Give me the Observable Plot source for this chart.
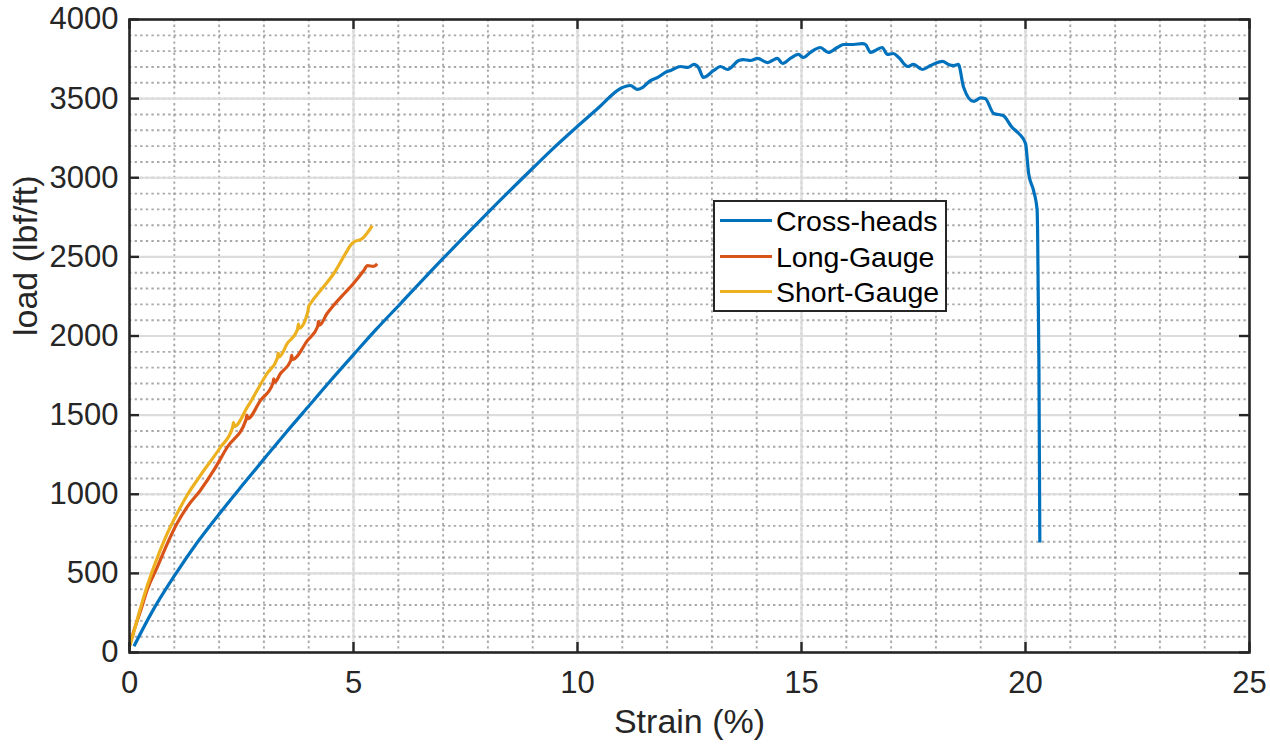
<!DOCTYPE html>
<html><head><meta charset="utf-8">
<script src="https://cdn.jsdelivr.net/npm/d3@7"></script>
<script src="https://cdn.jsdelivr.net/npm/@observablehq/plot@0.6"></script>
<style>
body{margin:0;background:#fff;}
#wrap{position:relative;width:1270px;height:744px;font-family:"Liberation Sans",Arial,sans-serif;}
#legend{position:absolute;left:713px;top:200px;width:234px;height:112px;box-sizing:border-box;border:2.5px solid #262626;background:#fff;}
.row{position:absolute;left:0;height:0;}
.sw{position:absolute;left:5px;width:52px;height:3px;top:-1.5px;}
.lab{position:absolute;left:61px;top:-17px;font-size:28.5px;line-height:34px;color:#000;white-space:nowrap;}
</style>
</head><body>
<div id="wrap"></div>
<script>
// ---- data ----
const seriesNames = ["Cross-heads", "Long-Gauge", "Short-Gauge"];
const seriesColors = ["#0072BD", "#D95319", "#EDB120"];

const crossX = [0.1,0.5,1.05,1.5,2.03,2.5,3.0,3.5,4.04,4.5,5.0,5.5,6.05,7,8,9,9.4,10.02,10.5,10.96,11.18,11.34,11.45,11.63,11.79,12.0,12.08,12.3,12.46,12.6,12.7,12.81,13.04,13.19,13.35,13.6,13.7,13.86,14.02,14.24,14.35,14.46,14.58,14.75,14.93,15.04,15.2,15.42,15.6,15.8,15.94,16.16,16.36,16.43,16.54,16.65,16.8,16.92,17.05,17.17,17.37,17.5,17.7,17.88,18.15,18.28,18.4,18.5,18.62,18.84,19.0,19.1,19.29,19.5,19.7,19.85,20.0,20.07,20.18,20.26,20.27,20.3,20.32];
const crossY = [40,255,505,690,885,1050,1222,1392,1570,1722,1882,2040,2205,2490,2780,3060,3170,3330,3450,3564,3583,3558,3570,3614,3634,3671,3678,3703,3697,3716,3697,3634,3678,3703,3684,3741,3747,3741,3754,3728,3741,3754,3722,3754,3779,3760,3792,3823,3792,3823,3842,3842,3848,3842,3792,3804,3823,3779,3785,3760,3703,3716,3684,3709,3735,3716,3709,3716,3570,3482,3505,3501,3406,3393,3318,3280,3216,3027,2919,2793,2667,1800,695];

const longX = [0,0.1,0.25,0.4,0.62,0.8,1.06,1.3,1.58,1.9,2.18,2.6,2.62,2.64,2.92,3.2,3.22,3.24,3.37,3.6,3.62,3.64,3.97,4.2,4.22,4.24,4.41,4.56,4.8,5.0,5.23,5.31,5.45,5.53];
const longY = [40,140,265,400,539,660,815,925,1024,1160,1297,1470,1500,1478,1592,1700,1730,1708,1763,1845,1878,1852,1971,2060,2092,2068,2142,2195,2270,2332,2414,2445,2440,2456];

const shortX = [0,0.02,0.25,0.4,0.54,0.8,1.06,1.3,1.58,2.03,2.3,2.32,2.34,2.63,3.07,3.3,3.32,3.34,3.52,3.75,3.77,3.79,3.97,4.0,4.04,4.3,4.56,4.86,4.93,5.0,5.19,5.42];
const shortY = [40,57,286,425,539,725,877,1000,1118,1297,1420,1452,1428,1550,1763,1860,1892,1868,1952,2040,2075,2050,2142,2185,2205,2300,2395,2540,2572,2593,2614,2698];

const xTicks = [0,5,10,15,20,25];
const yTicks = [0,500,1000,1500,2000,2500,3000,3500,4000];
const xMinor = d3.range(1,25);
const yMinor = d3.range(100,4000,100);

const xLabel = "Strain (%)";
const yLabel = "load (lbf/ft)";

// ---- build ----
const toRows = (xs, ys) => xs.map((x,i)=>({x, y: ys[i]}));
const series = [toRows(crossX, crossY), toRows(longX, longY), toRows(shortX, shortY)];

const W = 1270, H = 744, mL = 129, mR = 21, mT = 19, mB = 92;
const pw = W - mL - mR, ph = H - mT - mB;
const tickLen = 10;
const ink = "#262626";

const plot = Plot.plot({
  width: W, height: H,
  marginLeft: mL, marginRight: mR, marginTop: mT, marginBottom: mB,
  x: {domain: [0,25]},
  y: {domain: [0,4000]},
  style: {fontFamily: "'Liberation Sans', Arial, sans-serif", color: ink, background: "#fff", overflow: "visible"},
  marks: [
    Plot.ruleX(xMinor, {stroke: "#9a9a9a", strokeWidth: 1.9, strokeDasharray: "2.4,3.2", strokeOpacity: 0.85}),
    Plot.ruleY(yMinor, {stroke: "#9a9a9a", strokeWidth: 1.9, strokeDasharray: "2.4,3.2", strokeOpacity: 0.85}),
    Plot.ruleX(xTicks.slice(1,-1), {stroke: "#dcdcdc", strokeWidth: 2.2}),
    Plot.ruleY(yTicks.slice(1,-1), {stroke: "#dcdcdc", strokeWidth: 2.2}),
    ...series.map((s,i) => Plot.line(s, {x: "x", y: "y", stroke: seriesColors[i], strokeWidth: 3.2, strokeLinejoin: "round", strokeLinecap: "butt", curve: "monotone-x"})),
    Plot.frame({stroke: ink, strokeWidth: 2.6}),
    // inward ticks
    Plot.tickX(xTicks, {stroke: ink, strokeWidth: 2.4, insetTop: ph - tickLen}),
    Plot.tickX(xTicks, {stroke: ink, strokeWidth: 2.4, insetBottom: ph - tickLen}),
    Plot.tickY(yTicks, {stroke: ink, strokeWidth: 2.4, insetRight: pw - tickLen}),
    Plot.tickY(yTicks, {stroke: ink, strokeWidth: 2.4, insetLeft: pw - tickLen}),
    Plot.axisX(xTicks, {tickSize: 0, tickPadding: 18, fontSize: 31, label: null, fill: ink, tickFormat: d => String(d)}),
    Plot.axisY(yTicks, {tickSize: 0, tickPadding: 11, fontSize: 31, label: null, fill: ink, tickFormat: d => String(d)}),
    Plot.text([xLabel], {frameAnchor: "bottom", dy: 70, text: d => d, fontSize: 34, lineAnchor: "middle", fill: ink}),
    Plot.text([yLabel], {frameAnchor: "left", dx: -103, text: d => d, fontSize: 34, rotate: -90, lineAnchor: "middle", fill: ink})
  ]
});

const wrap = document.getElementById("wrap");
wrap.appendChild(plot);

const legend = document.createElement("div");
legend.id = "legend";
const rowTops = [21, 57, 92];
seriesNames.forEach((name, i) => {
  const row = document.createElement("div");
  row.className = "row";
  row.style.top = (rowTops[i] - 2.5) + "px";
  const sw = document.createElement("div");
  sw.className = "sw";
  sw.style.background = seriesColors[i];
  const lab = document.createElement("div");
  lab.className = "lab";
  lab.textContent = name;
  row.appendChild(sw); row.appendChild(lab);
  legend.appendChild(row);
});
wrap.appendChild(legend);
</script>
</body></html>
